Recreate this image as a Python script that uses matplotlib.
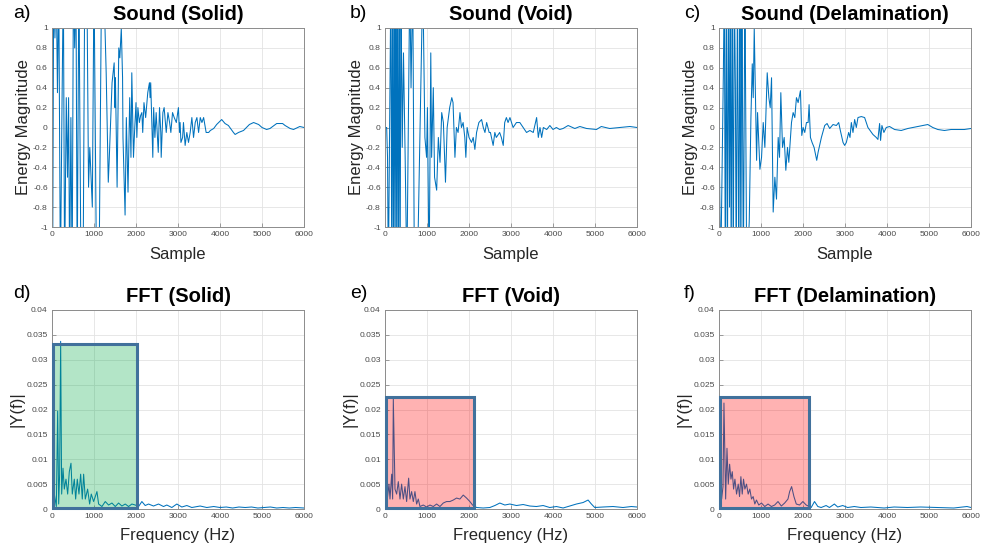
import matplotlib
matplotlib.use("Agg")
import matplotlib.pyplot as plt
from matplotlib.patches import Rectangle

plt.rcParams['font.family'] = ['Liberation Sans', 'DejaVu Sans']

# ---- time signals (sample, value) ----
solid_t = [0, 15, 40, 70, 100, 130, 160, 200, 240, 270, 300, 340, 370, 395, 420, 450, 480, 510, 540, 570,
           600, 640, 690, 740, 780, 830, 870, 900, 930, 960, 1000, 1060, 1120, 1180, 1230, 1290, 1340, 1360,
           1400, 1430, 1480, 1500, 1510, 1550, 1590, 1615, 1650, 1680, 1690, 1740, 1770, 1810, 1850, 1880,
           1900, 1940, 1965, 2000, 2020, 2045, 2080, 2110, 2140, 2160, 2190, 2230, 2280, 2320, 2335, 2350,
           2400, 2420, 2450, 2480, 2530, 2560, 2590, 2600, 2640, 2670, 2720, 2760, 2800, 2830, 2870, 2910,
           2960, 3010, 3035, 3050, 3070, 3110, 3130, 3170, 3210, 3250, 3290, 3330, 3370, 3410, 3450, 3490,
           3530, 3570, 3610, 3670, 3730, 3770, 3850, 3920, 4040, 4120, 4200, 4320, 4360, 4440, 4560, 4700,
           4800, 4920, 5000, 5110, 5190, 5350, 5490, 5550, 5670, 5750, 5900, 6000]
solid_v = [0, -1.5, 1.5, 0.9, 1.5, 0.35, 1.5, -1.5, 0.3, 1.5, -1.5, 0.3, -0.5, 0.3, -1.5, 0.1, -1.5, 1.5, 0.8, 1.5,
           -1.5, 1.5, -1.5, -1.5, 1.5, 1.5, -0.6, -0.2, -0.5, -0.8, 1.5, -1.5, -1.5, 1.5, 1.5, 0.55, -0.55, -0.35,
           0.1, 0.45, 0.65, 0.2, 0.5, -0.6, 0.8, 0.7, 1.0, 0.5, -0.1, -0.88, 0.1, -0.65, 0.3, -0.3,
           0.55, -0.3, -0.05, 0.25, -0.1, 0.2, 0.05, 0.12, 0.15, -0.05, 0.25, 0.1, 0.35, 0.45, 0.3, 0.45,
           -0.3, 0.2, -0.1, 0.15, -0.25, 0.2, -0.05, -0.3, 0.15, 0.2, -0.05, 0.15, 0.05, -0.05, 0.15, 0.1,
           0.05, 0.2, -0.05, 0.05, -0.15, -0.1, 0.05, -0.18, -0.05, -0.15, -0.05, 0.1, -0.1, 0.05, 0.1, -0.05,
           0.1, 0.05, 0.1, -0.05, -0.05, -0.03, -0.01, 0.03, 0.08, 0.04, 0.02, -0.05, -0.07, -0.05, -0.03, 0.03,
           0.05, 0.03, 0.0, -0.02, -0.01, 0.04, 0.04, 0.02, -0.01, -0.02, 0.01, 0.0]

void_t = [0, 40, 60, 80, 140, 160, 180, 200, 220, 240, 260, 280, 300, 320, 340, 360, 380, 410, 440, 480,
          520, 590, 620, 660, 700, 770, 900, 950, 990, 1010, 1050, 1090, 1110, 1150, 1180, 1230, 1270, 1310,
          1350, 1390, 1440, 1480, 1540, 1590, 1620, 1665, 1700, 1740, 1785, 1820, 1860, 1900, 1925, 1955,
          2000, 2060, 2100, 2140, 2180, 2235, 2300, 2340, 2380, 2420, 2480, 2510, 2575, 2615, 2650, 2730,
          2770, 2815, 2850, 2890, 2930, 2975, 3050, 3130, 3210, 3290, 3370, 3450, 3530, 3610, 3650, 3690,
          3730, 3770, 3850, 3925, 4000, 4080, 4160, 4240, 4360, 4520, 4640, 4800, 5035, 5150, 5350, 5590,
          5830, 6000]
void_v = [0, 0, -0.3, -1.5, 1.5, -1.5, 1.5, -1.5, 1.5, -1.5, 1.5, -1.5, 1.5, -1.5, 1.5, -1.5, 1.5, -0.2, 0.75, -0.3,
          -1.5, 1.5, 0.4, 1.5, -1.5, -1.5, 1.5, -0.1, -0.3, 0.2, -1.5, 0.75, -0.3, 0.4, -0.5, -0.63, -0.1, -0.35,
          0.15, 0.05, -0.55, 0.0, 0.2, 0.3, 0.25, -0.3, 0.0, -0.05, 0.15, 0.0, 0.05, -0.1, -0.3, 0.0,
          -0.1, -0.15, -0.1, -0.22, -0.05, 0.05, 0.08, 0.0, -0.05, 0.05, -0.05, -0.05, -0.18, -0.05, -0.1, -0.05,
          -0.1, -0.18, 0.05, 0.1, 0.05, 0.1, 0.0, 0.05, 0.05, 0.0, -0.05, -0.03, -0.05, 0.1, -0.1, 0.0,
          -0.1, 0.0, -0.02, 0.02, -0.02, 0.0, -0.02, -0.01, 0.02, -0.01, 0.01, -0.01, -0.02, 0.01, -0.01, 0.0,
          0.01, 0.0]

delam_t = [0, 40, 103, 127, 150, 175, 200, 225, 250, 270, 290, 315, 340, 365, 390, 410, 440, 470, 500, 520,
           545, 580, 617, 660, 720, 760, 792, 815, 839, 895, 918, 974, 1013, 1053, 1092, 1148, 1187, 1219,
           1251, 1290, 1330, 1369, 1409, 1441, 1472, 1512, 1552, 1591, 1631, 1662, 1702, 1726, 1765, 1805,
           1844, 1884, 1939, 1971, 2003, 2042, 2082, 2122, 2145, 2177, 2216, 2264, 2327, 2359, 2438, 2517,
           2573, 2636, 2715, 2794, 2850, 2889, 2953, 2992, 3032, 3087, 3119, 3151, 3190, 3230, 3269, 3309,
           3388, 3467, 3546, 3665, 3744, 3784, 3824, 3847, 3879, 3926, 3982, 4061, 4180, 4338, 4496, 4734,
           4971, 5090, 5209, 5367, 5525, 5684, 5842, 6000]
delam_v = [0, -1.5, 0.52, 1.5, -1.5, 1.5, -1.5, 1.5, -0.8, 1.5, -1.5, 1.5, -1.5, 1.5, 0.4, -1.5, 1.5, -1.5, 1.5, -1.5,
           1.5, -1.5, 1.5, -1.5, -0.95, 0.1, 0.64, 0.3, 1.0, -0.33, 0.15, -0.42, -0.3, 0.05, -0.2, 0.55, 0.3, 0.2,
           0.5, -0.85, -0.5, -0.72, -0.1, -0.3, 0.35, -0.2, -0.1, -0.43, -0.2, -0.35, -0.1, 0.05, 0.15, 0.1,
           0.3, 0.25, 0.37, -0.08, 0.0, -0.05, 0.05, 0.05, 0.23, -0.1, -0.15, -0.2, -0.33, -0.25, -0.1, 0.02,
           0.04, -0.01, 0.03, 0.02, 0.05, -0.03, -0.15, -0.18, -0.15, -0.05, -0.1, 0.05, -0.05, 0.08, 0.0, 0.1,
           0.11, 0.1, 0.0, -0.07, -0.1, -0.12, 0.04, -0.13, 0.02, -0.05, 0.0, 0.01, -0.02, -0.03, -0.01, 0.01,
           0.03, 0.0, -0.02, -0.03, -0.02, -0.02, -0.02, -0.01]

# ---- FFT magnitudes (Hz, |Y(f)|) ----
solid_f = [0, 24, 55, 103, 135, 159, 182, 206, 230, 262, 293, 333, 373, 412, 452, 483, 531, 563, 602, 642,
           682, 721, 753, 793, 848, 896, 935, 991, 1070, 1110, 1189, 1268, 1347, 1427, 1506, 1585, 1664, 1744,
           1823, 1902, 1982, 2061, 2140, 2219, 2299, 2417, 2536, 2655, 2734, 2853, 2972, 3091, 3210, 3329,
           3527, 3686, 3850, 4000, 4150, 4300, 4450, 4600, 4750, 4900, 5050, 5200, 5350, 5500, 5650, 5800, 6000]
solid_y = [0.002, 0.0062, 0.003, 0.0005, 0.0197, 0.001, 0.007, 0.0337, 0.003, 0.0082, 0.004, 0.006, 0.003, 0.0075,
           0.0092, 0.003, 0.006, 0.002, 0.006, 0.003, 0.007, 0.002, 0.007, 0.002, 0.004, 0.001, 0.003, 0.0015,
           0.0035, 0.001, 0.0005, 0.0015, 0.0008, 0.0012, 0.0005, 0.0012, 0.0006, 0.001, 0.0005, 0.001, 0.0008,
           0.0005, 0.0015, 0.0007, 0.001, 0.0006, 0.001, 0.0005, 0.0008, 0.0003, 0.001, 0.0004, 0.0007, 0.0003,
           0.0006, 0.0003, 0.0005, 0.0003, 0.0004, 0.0002, 0.0004, 0.0003, 0.0004, 0.0002, 0.0003, 0.0004,
           0.0002, 0.0003, 0.0002, 0.0003, 0.0002]

void_f = [0, 16, 55, 95, 119, 159, 182, 198, 238, 277, 317, 357, 396, 436, 476, 515, 563, 594, 634, 674,
          713, 753, 793, 832, 911, 991, 1070, 1149, 1229, 1308, 1387, 1466, 1546, 1625, 1704, 1783, 1863,
          1942, 2021, 2085, 2180, 2338, 2497, 2616, 2734, 2853, 2972, 3131, 3289, 3448, 3606, 3765, 3923,
          4082, 4240, 4399, 4557, 4716, 4835, 4914, 4993, 5192, 5429, 5667, 5865, 6000]
void_y = [0.003, 0.0099, 0.002, 0.005, 0.002, 0.007, 0.002, 0.0221, 0.004, 0.003, 0.0055, 0.002, 0.005, 0.002,
          0.0045, 0.0015, 0.0062, 0.002, 0.0035, 0.0015, 0.0035, 0.001, 0.002, 0.0005, 0.0008, 0.0004, 0.0008,
          0.0005, 0.001, 0.0005, 0.0012, 0.0015, 0.0015, 0.0018, 0.0022, 0.002, 0.0028, 0.0022, 0.0015, 0.0008,
          0.0003, 0.0002, 0.0003, 0.0007, 0.0012, 0.0008, 0.001, 0.0007, 0.0009, 0.0006, 0.0005, 0.0007,
          0.0003, 0.0005, 0.0002, 0.0006, 0.001, 0.0013, 0.0018, 0.001, 0.0003, 0.0004, 0.0005, 0.0003,
          0.0005, 0.0004]

delam_f = [0, 24, 63, 95, 118, 158, 190, 221, 253, 284, 316, 347, 379, 418, 458, 489, 521, 553, 584, 616,
           655, 695, 734, 774, 813, 853, 892, 947, 1011, 1090, 1168, 1247, 1326, 1405, 1484, 1563, 1642, 1682,
           1729, 1784, 1840, 1918, 1997, 2076, 2195, 2274, 2353, 2432, 2550, 2629, 2747, 2826, 2945, 3063,
           3221, 3379, 3616, 3932, 4169, 4484, 4800, 5195, 5590, 5905, 6000]
delam_y = [0.004, 0.007, 0.002, 0.0045, 0.0213, 0.002, 0.0122, 0.005, 0.009, 0.006, 0.0075, 0.004, 0.006, 0.003,
           0.005, 0.0025, 0.0065, 0.003, 0.006, 0.004, 0.005, 0.003, 0.004, 0.002, 0.0025, 0.001, 0.0018, 0.0008,
           0.0012, 0.0005, 0.001, 0.0005, 0.0008, 0.0015, 0.0006, 0.0012, 0.002, 0.0035, 0.0045, 0.0025, 0.001,
           0.0008, 0.0015, 0.0008, 0.0003, 0.0015, 0.0005, 0.0003, 0.0007, 0.0003, 0.001, 0.0004, 0.0007,
           0.0003, 0.0005, 0.0003, 0.0004, 0.0002, 0.0004, 0.0003, 0.0004, 0.0003, 0.0002, 0.0005, 0.0003]

# highlighted bands: (f_low, f_high, |Y| top)
solid_band = [30, 2016, 0.0331]
void_band = [24, 2126, 0.02245]
delam_band = [31, 2141, 0.0225]

time_ticks = [-1, -0.8, -0.6, -0.4, -0.2, 0, 0.2, 0.4, 0.6, 0.8, 1]
time_labels = ['-1', '-0.8', '-0.6', '-0.4', '-0.2', '0', '0.2', '0.4', '0.6', '0.8', '1']
fft_ticks = [0, 0.005, 0.01, 0.015, 0.02, 0.025, 0.03, 0.035, 0.04]
fft_labels = ['0', '0.005', '0.01', '0.015', '0.02', '0.025', '0.03', '0.035', '0.04']
x_ticks = [0, 1000, 2000, 3000, 4000, 5000, 6000]

LINE = '#0072BD'
W, H = 981, 552
fig = plt.figure(figsize=(W / 100, H / 100), dpi=100)


def style(ax):
    ax.set_xlim(0, 6000)
    ax.set_xticks(x_ticks)
    ax.set_xticklabels([str(t) for t in x_ticks])
    ax.grid(True, color='#e3e3e3', linewidth=0.6)
    ax.set_axisbelow(True)
    for s in ax.spines.values():
        s.set_color('#8c8c8c')
        s.set_linewidth(0.7)
    ax.tick_params(direction='in', length=3, width=0.6, colors='#8c8c8c',
                   labelcolor='#4a4a4a', labelsize=6.1, pad=3)


lefts = [52, 385, 719]
letters_top = ['a)', 'b)', 'c)']
letters_bot = ['d)', 'e)', 'f)']
letter_x = [13, 350, 684]
names = ['Solid', 'Void', 'Delamination']
times = [(solid_t, solid_v), (void_t, void_v), (delam_t, delam_v)]
ffts = [(solid_f, solid_y), (void_f, void_y), (delam_f, delam_y)]
bands = [solid_band, void_band, delam_band]
fills = [(0.02, 0.67, 0.28, 0.3), (1.0, 0.0, 0.0, 0.3), (1.0, 0.0, 0.0, 0.3)]

for i in range(3):
    # time-domain
    ax = fig.add_axes([lefts[i] / W, 1 - 227 / H, 252 / W, 199 / H])
    ax.plot(times[i][0], times[i][1], color=LINE, linewidth=0.75)
    ax.set_ylim(-1, 1)
    ax.set_yticks(time_ticks)
    ax.set_yticklabels(time_labels)
    style(ax)
    ax.set_title('Sound (%s)' % names[i], fontsize=14.5, fontweight='bold', pad=6)
    ax.set_xlabel('Sample', fontsize=12, color='#262626')
    ax.set_ylabel('Energy Magnitude', fontsize=12, color='#262626')
    ax.xaxis.set_label_coords(0.5, -0.1)
    ax.yaxis.set_label_coords(-0.085, 0.5)
    fig.text(letter_x[i] / W, 1 - 13 / H, letters_top[i], fontsize=14, va='center')

    # FFT
    ax = fig.add_axes([lefts[i] / W, 1 - 509 / H, 252 / W, 199 / H])
    ax.plot(ffts[i][0], ffts[i][1], color=LINE, linewidth=0.75)
    ax.set_ylim(0, 0.04)
    ax.set_yticks(fft_ticks)
    ax.set_yticklabels(fft_labels)
    style(ax)
    ax.set_title('FFT (%s)' % names[i], fontsize=14.5, fontweight='bold', pad=6)
    ax.set_xlabel('Frequency (Hz)', fontsize=12, color='#262626')
    ax.set_ylabel('|Y(f)|', fontsize=12, color='#262626')
    ax.xaxis.set_label_coords(0.5, -0.095)
    ax.yaxis.set_label_coords(-0.11, 0.5)
    lo, hi, top = bands[i]
    ax.add_patch(Rectangle((lo, 0.0003), hi - lo, top - 0.0003, facecolor=fills[i],
                           edgecolor='none', zorder=3, clip_on=False))
    ax.add_patch(Rectangle((lo, 0.0003), hi - lo, top - 0.0003, facecolor='none',
                           edgecolor='#41719C', linewidth=2.2, zorder=4, clip_on=False))
    fig.text(letter_x[i] / W, 1 - 293 / H, letters_bot[i], fontsize=14, va='center')

fig.savefig('out.png', dpi=100)
